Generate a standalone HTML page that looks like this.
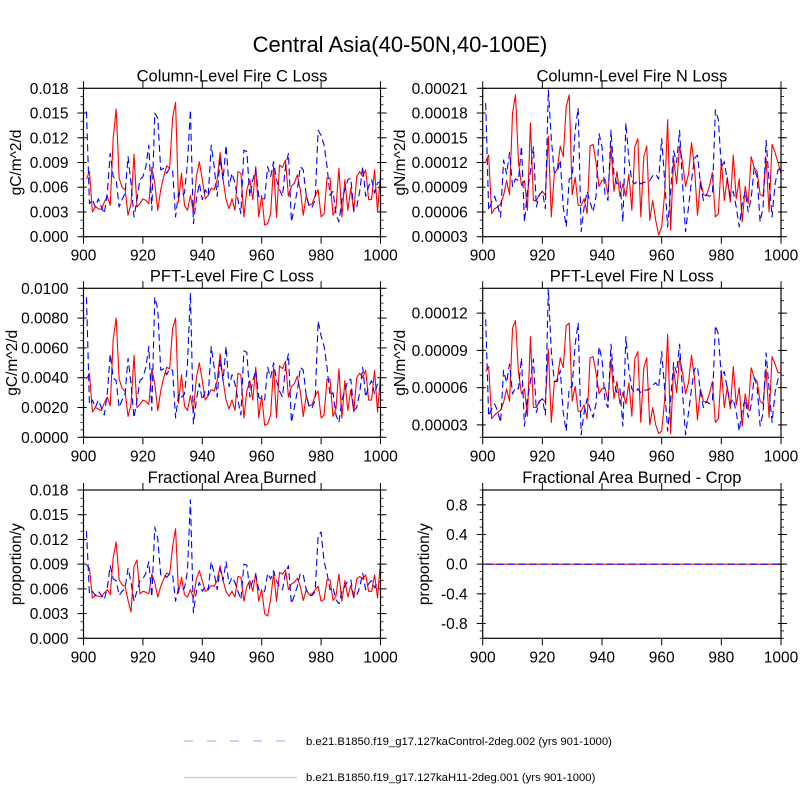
<!DOCTYPE html>
<html><head><meta charset="utf-8"><style>
html,body{margin:0;padding:0;background:#fff;}
svg{display:block;font-family:"Liberation Sans",Arial,sans-serif;}
</style></head><body>
<svg id="chart" width="800" height="800" viewBox="0 0 800 800" xmlns="http://www.w3.org/2000/svg">
<text x="400" y="52" font-size="22" text-anchor="middle">Central Asia(40-50N,40-100E)</text>
<g>
<line x1="184" y1="741" x2="291" y2="741" stroke="#b0b4ff" stroke-width="1.3" stroke-dasharray="9,14"/>
<text x="306" y="745" font-size="11.3">b.e21.B1850.f19_g17.127kaControl-2deg.002 (yrs 901-1000)</text>
<line x1="184" y1="777.5" x2="297" y2="777.5" stroke="#ffb4b4" stroke-width="1.3"/>
<text x="306" y="781" font-size="11.3">b.e21.B1850.f19_g17.127kaH11-2deg.001 (yrs 901-1000)</text>
</g>
</svg>
<script>
const years = [];
for (let y = 901; y <= 1000; y++) years.push(y);
const xTickLabels = [900, 920, 940, 960, 980, 1000];

const colCControl = [15.2,4.0,4.5,3.6,4.6,3.6,2.8,5.3,10.1,7.3, 6.9,3.6,4.5,5.3,9.7,6.5,2.4,4.5,6.9,7.3, 8.5,11.1,3.2,15.0,14.4,8.1,8.3,7.7,8.3,8.1, 2.4,5.3,4.9,5.3,8.9,15.4,1.6,4.5,6.5,4.5, 5.7,5.0,11.1,8.5,4.9,9.5,6.9,11.1,6.1,7.7, 6.5,4.5,2.8,10.5,10.3,4.9,6.9,8.1,4.9,4.6, 4.6,8.5,7.3,9.1,6.9,5.7,4.9,8.5,10.1,1.8, 3.6,5.7,8.5,8.1,5.0,3.6,3.6,4.5,12.9,12.3, 11.1,8.5,5.0,5.5,2.8,1.8,4.5,5.7,6.9,7.1, 3.2,3.6,5.5,8.5,4.9,6.1,6.9,5.3,6.5,6.7];
const colCH11 = [7.0,7.9,3.0,3.7,3.4,3.3,4.2,4.9,3.8,12.0, 15.5,7.1,6.0,5.7,2.6,4.0,10.0,3.6,4.0,4.6, 4.4,4.0,8.4,6.5,3.2,5.7,7.3,8.6,8.3,14.4, 16.3,4.2,7.7,3.8,3.2,5.0,3.0,7.3,9.1,6.9, 4.6,5.0,5.9,5.7,6.9,10.2,6.9,4.5,3.4,4.6, 3.2,7.9,7.7,2.4,5.7,6.9,4.5,8.5,2.4,5.0, 1.4,1.6,2.8,8.6,2.4,8.7,8.4,9.3,4.9,6.1, 6.5,7.5,5.7,2.6,5.0,3.8,4.0,5.0,5.7,2.4, 2.8,7.1,7.1,2.6,3.4,8.3,2.4,6.9,3.2,5.9, 3.0,7.3,7.9,7.3,8.1,4.5,4.5,8.1,3.0,7.5];
const colNControl = [19.2,6.2,7.2,7.9,6.8,5.4,12.3,10.6,13.2,9.1, 10.0,9.8,14.0,4.8,8.5,10.9,13.9,6.6,8.1,8.5, 6.4,20.8,14.9,10.8,10.9,12.3,6.6,4.2,10.0,10.2, 15.9,18.6,3.6,6.6,8.5,7.2,6.0,7.9,15.5,13.9, 8.1,7.4,15.9,10.6,9.4,9.8,4.8,16.8,12.3,9.8, 9.4,9.8,9.4,9.6,9.6,9.8,10.4,10.6,10.0,14.9, 9.8,4.2,8.5,13.4,12.0,15.9,9.4,3.6,6.6,9.8, 12.5,12.9,9.4,7.4,8.1,7.9,8.1,18.4,17.2,11.4, 12.1,9.8,7.9,8.5,6.6,4.2,7.0,8.5,6.0,7.6, 11.4,10.2,4.8,6.6,14.7,9.8,5.4,9.4,11.1,11.4];
const colNH11 = [12.1,12.9,5.8,6.4,6.6,7.0,8.0,9.8,8.1,18.0, 20.2,12.0,9.2,9.8,6.2,16.8,7.4,7.4,8.1,8.5, 8.0,15.2,5.4,10.6,11.2,14.0,12.7,18.8,20.2,8.1, 10.2,6.8,6.8,7.6,5.8,14.0,14.2,12.0,9.1,9.8, 10.0,8.1,13.9,8.5,10.9,7.9,9.4,7.9,10.6,6.2, 13.9,14.9,5.4,12.7,14.0,5.0,7.4,5.0,3.2,4.2, 8.3,17.2,3.8,12.5,9.4,14.0,12.0,9.1,10.6,14.4, 11.4,5.6,9.8,8.1,8.0,9.1,10.8,5.4,5.8,12.3, 7.4,10.2,7.2,12.9,7.6,10.0,4.8,9.1,7.0,12.7, 11.4,10.9,8.1,7.9,12.5,6.0,14.2,13.2,12.0,10.6];
const pftCControl = [9.4,2.2,2.5,2.0,2.5,2.0,1.5,2.9,5.6,4.0, 3.8,2.0,2.5,2.9,5.3,3.6,1.3,2.5,3.8,4.0, 4.7,6.1,1.8,9.4,8.6,4.5,4.6,4.2,4.6,4.5, 1.3,2.9,2.7,2.9,4.9,9.7,0.9,2.5,3.6,2.5, 3.1,2.8,6.1,4.7,2.7,5.2,3.8,6.1,3.4,4.2, 3.6,2.5,1.5,5.8,5.7,2.7,3.8,4.5,2.7,2.5, 2.5,4.7,4.0,5.0,3.8,3.1,2.7,4.7,5.6,1.0, 2.0,3.1,4.7,4.5,2.8,2.0,2.0,2.5,7.8,6.8, 6.1,4.7,2.8,3.0,1.5,1.0,2.5,3.1,3.8,3.9, 1.8,2.0,3.0,4.7,2.7,3.4,3.8,2.9,3.6,3.7];
const pftCH11 = [3.9,4.3,1.7,2.0,1.9,1.8,2.3,2.7,2.1,6.6, 8.0,3.9,3.3,3.1,1.4,2.2,5.5,2.0,2.2,2.5, 2.4,2.2,4.6,3.6,1.8,3.1,4.0,4.7,4.6,7.3, 8.0,2.3,4.2,2.1,1.8,2.8,1.7,4.0,5.0,3.8, 2.5,2.8,3.2,3.1,3.8,5.6,3.8,2.5,1.9,2.5, 1.8,4.3,4.2,1.3,3.1,3.8,2.5,4.7,1.3,2.8, 0.8,0.9,1.5,4.7,1.3,4.8,4.6,5.1,2.7,3.4, 3.6,4.1,3.1,1.4,2.8,2.1,2.2,2.8,3.1,1.3, 1.5,3.9,3.9,1.4,1.9,4.6,1.3,3.8,1.8,3.2, 1.7,4.0,4.3,4.0,4.5,2.5,2.5,4.5,1.7,4.1];
const pftNControl = [11.5,3.7,4.3,4.7,4.1,3.2,7.4,6.4,7.9,5.5, 6.0,5.9,8.4,2.9,5.1,6.5,8.3,4.0,4.9,5.1, 3.8,14.0,8.9,6.5,6.5,7.4,4.0,2.5,6.0,6.1, 9.5,11.2,2.2,4.0,5.1,4.3,3.6,4.7,9.3,8.3, 4.9,4.4,9.5,6.4,5.6,5.9,2.9,10.1,7.4,5.9, 5.6,5.9,5.6,5.8,5.8,5.9,6.2,6.4,6.0,8.9, 5.9,2.5,5.1,8.0,7.2,9.5,5.6,2.2,4.0,5.9, 7.5,7.7,5.6,4.4,4.9,4.7,4.9,11.0,10.3,6.8, 7.3,5.9,4.7,5.1,4.0,2.5,4.2,5.1,3.6,4.6, 6.8,6.1,2.9,4.0,8.8,5.9,3.2,5.6,6.7,6.8];
const pftNH11 = [7.3,7.7,3.5,3.8,4.0,4.2,4.8,5.9,4.9,10.8, 11.4,7.2,5.5,5.9,3.7,10.1,4.4,4.4,4.9,5.1, 4.8,9.1,3.2,6.4,6.7,8.4,7.6,11.0,11.2,4.9, 6.1,4.1,4.1,4.6,3.5,8.4,8.5,7.2,5.5,5.9, 6.0,4.9,8.3,5.1,6.5,4.7,5.6,4.7,6.4,3.7, 8.3,8.9,3.2,7.6,8.4,3.0,4.4,3.0,2.3,2.5, 5.0,10.3,2.3,7.5,5.6,8.4,7.2,5.5,6.4,8.6, 6.8,3.4,5.9,4.9,4.8,5.5,6.5,3.2,3.5,7.4, 4.4,6.1,4.3,7.7,4.6,6.0,2.9,5.5,4.2,7.6, 6.8,6.5,4.9,4.7,7.5,3.6,8.5,7.9,7.2,7.2];
const fabControl = [13.0,5.4,5.7,5.2,5.7,5.2,4.7,6.1,8.8,7.2, 7.0,5.2,5.7,6.1,8.5,6.8,4.5,5.7,7.0,7.2, 7.9,9.3,5.0,13.5,12.1,7.7,7.8,7.4,7.8,7.7, 4.5,6.1,5.9,6.1,8.1,16.8,3.1,5.7,6.8,5.7, 6.3,5.9,9.3,7.9,5.9,8.4,7.0,9.3,6.6,7.4, 6.8,5.7,4.7,9.0,8.9,5.9,7.0,7.7,5.9,5.7, 5.7,7.9,7.2,8.2,7.0,6.3,5.9,7.9,8.8,4.2, 5.2,6.3,7.9,7.7,5.9,5.2,5.2,5.7,12.5,12.9, 9.3,7.9,5.9,6.2,4.7,4.2,5.7,6.3,7.0,7.1, 5.0,5.2,6.2,7.9,5.9,6.6,7.0,6.1,6.8,6.9];
const fabH11 = [8.9,8.5,4.9,5.2,5.1,5.0,5.5,5.9,5.3,9.8, 11.7,7.1,6.5,6.3,4.6,3.2,8.7,9.5,5.4,5.7, 5.6,5.4,7.8,6.8,5.0,6.3,7.2,7.9,7.8,11.1, 13.3,5.5,7.4,5.3,5.0,5.9,4.9,7.2,8.2,7.0, 5.7,5.9,6.4,6.3,7.0,8.8,7.0,5.7,5.1,5.7, 5.0,7.5,7.4,4.5,6.3,7.0,5.7,7.9,4.5,5.9, 3.0,2.7,4.7,7.9,4.5,8.0,7.8,8.3,5.9,6.6, 6.8,7.3,6.3,4.6,5.9,5.3,5.4,5.9,6.3,4.5, 4.7,7.1,7.1,4.6,5.1,7.8,4.5,7.0,5.0,6.4, 4.9,7.2,7.5,7.2,7.7,5.7,5.7,7.7,4.9,9.3];
const cropControl = [0,0,0,0,0,0,0,0,0,0, 0,0,0,0,0,0,0,0,0,0, 0,0,0,0,0,0,0,0,0,0, 0,0,0,0,0,0,0,0,0,0, 0,0,0,0,0,0,0,0,0,0, 0,0,0,0,0,0,0,0,0,0, 0,0,0,0,0,0,0,0,0,0, 0,0,0,0,0,0,0,0,0,0, 0,0,0,0,0,0,0,0,0,0, 0,0,0,0,0,0,0,0,0,0];
const cropH11 = [0,0,0,0,0,0,0,0,0,0, 0,0,0,0,0,0,0,0,0,0, 0,0,0,0,0,0,0,0,0,0, 0,0,0,0,0,0,0,0,0,0, 0,0,0,0,0,0,0,0,0,0, 0,0,0,0,0,0,0,0,0,0, 0,0,0,0,0,0,0,0,0,0, 0,0,0,0,0,0,0,0,0,0, 0,0,0,0,0,0,0,0,0,0, 0,0,0,0,0,0,0,0,0,0];

const tickLabelsColC = ["0.000","0.003","0.006","0.009","0.012","0.015","0.018"];
const tickLabelsColN = ["0.00003","0.00006","0.00009","0.00012","0.00015","0.00018","0.00021"];
const tickLabelsPftC = ["0.0000","0.0020","0.0040","0.0060","0.0080","0.0100"];
const tickLabelsPftN = ["0.00003","0.00006","0.00009","0.00012"];
const tickLabelsCrop = ["-0.8","-0.4","0.0","0.4","0.8"];

const NS = "http://www.w3.org/2000/svg";
const svg = document.getElementById("chart");
function mk(tag, attrs, parent) {
  const e = document.createElementNS(NS, tag);
  for (const k in attrs) e.setAttribute(k, attrs[k]);
  (parent || svg).appendChild(e);
  return e;
}

const panels = [
  {id:"col-c", title:"Column-Level Fire C Loss", ytitle:"gC/m^2/d", x0:83.5, x1:380.5, y0:88.3, y1:236.7, ymin:0, ymax:18, unit:1, ctrl:colCControl, h11:colCH11, labels:tickLabelsColC, tstart:0, tstep:3, minor:1, ytx:16},
  {id:"col-n", title:"Column-Level Fire N Loss", ytitle:"gN/m^2/d", x0:482.7, x1:781, y0:88.3, y1:236.7, ymin:3, ymax:21, unit:1, ctrl:colNControl, h11:colNH11, labels:tickLabelsColN, tstart:3, tstep:3, minor:1, ytx:400},
  {id:"pft-c", title:"PFT-Level Fire C Loss", ytitle:"gC/m^2/d", x0:83.5, x1:380.5, y0:288.3, y1:437.3, ymin:0, ymax:10, unit:1, ctrl:pftCControl, h11:pftCH11, labels:tickLabelsPftC, tstart:0, tstep:2, minor:0.5, ytx:12},
  {id:"pft-n", title:"PFT-Level Fire N Loss", ytitle:"gN/m^2/d", x0:482.7, x1:781, y0:288.3, y1:437.3, ymin:2, ymax:14, unit:1, ctrl:pftNControl, h11:pftNH11, labels:tickLabelsPftN, tstart:3, tstep:3, minor:1, ytx:400},
  {id:"fab", title:"Fractional Area Burned", ytitle:"proportion/y", x0:83.5, x1:380.5, y0:490, y1:638.3, ymin:0, ymax:18, unit:1, ctrl:fabControl, h11:fabH11, labels:tickLabelsColC, tstart:0, tstep:3, minor:1, ytx:16},
  {id:"crop", title:"Fractional Area Burned - Crop", ytitle:"proportion/y", x0:482.7, x1:781, y0:490, y1:638.3, ymin:-1, ymax:1, unit:1, ctrl:cropControl, h11:cropH11, labels:tickLabelsCrop, tstart:-0.8, tstep:0.4, minor:0.1, ytx:424}
];

panels.forEach(p => {
  const g = mk("g", {});
  
  
  const xs = v => p.x0 + (v - 900) / 100 * (p.x1 - p.x0);
  const ys = v => p.y1 - (v - p.ymin) / (p.ymax - p.ymin) * (p.y1 - p.y0);
  const t = mk("text", {x:(p.x0+p.x1)/2, y:p.y0-7, "font-size":16.5, "text-anchor":"middle"}, g);
  t.textContent = p.title;
  
  
  const cy = (p.y0+p.y1)/2;
  const yt = mk("text", {x:p.ytx, y:cy, "font-size":15.5, "text-anchor":"middle", transform:"rotate(-90 "+p.ytx+" "+cy+")", dy:"5"}, g);
  yt.textContent = p.ytitle;
  
  
  const mkLine = (arr, color, dash, name) => {
    const d = arr.map((v,i) => (i?"L":"M") + xs(years[i]).toFixed(2) + "," + ys(v*p.unit).toFixed(2)).join("");
    const a = {d:d, fill:"none", stroke:color, "stroke-width":1.1, "stroke-linejoin":"round"};
    if (dash) a["stroke-dasharray"] = dash;
    const pth = mk("path", a, g);
    
    
  };
  mkLine(p.h11, "#ff0000", null, p.id + "-h11-line");
  mkLine(p.ctrl, "#0000ff", "7,4", p.id + "-control-line");
  const fr = mk("rect", {x:p.x0, y:p.y0, width:p.x1-p.x0, height:p.y1-p.y0, fill:"none", stroke:"#000", "stroke-width":1.2}, g);
  
  
  xTickLabels.forEach(v => {
    const x = xs(v);
    mk("line", {x1:x, x2:x, y1:p.y1, y2:p.y1+7, stroke:"#000", "stroke-width":1}, g);
    mk("line", {x1:x, x2:x, y1:p.y0, y2:p.y0-7, stroke:"#000", "stroke-width":1}, g);
    const lb = mk("text", {x:x, y:p.y1+24, "font-size":15.5, "text-anchor":"middle"}, g);
    lb.textContent = v;
    
    
  });
  const nMin = Math.round((p.ymax - p.ymin) / p.minor);
  for (let i = 0; i <= nMin; i++) {
    const y = ys(p.ymin + i * p.minor);
    mk("line", {x1:p.x0-3, x2:p.x0, y1:y, y2:y, stroke:"#000", "stroke-width":0.8}, g);
    mk("line", {x1:p.x1, x2:p.x1+3, y1:y, y2:y, stroke:"#000", "stroke-width":0.8}, g);
  }
  p.labels.forEach((lab, i) => {
    const y = ys(p.tstart + i * p.tstep);
    mk("line", {x1:p.x0-6, x2:p.x0+3, y1:y, y2:y, stroke:"#000", "stroke-width":1}, g);
    mk("line", {x1:p.x1-3, x2:p.x1+6, y1:y, y2:y, stroke:"#000", "stroke-width":1}, g);
    const lb = mk("text", {x:p.x0-15, y:y+5.5, "font-size":15.5, "text-anchor":"end"}, g);
    lb.textContent = lab;
    
    
  });
});
</script>
</body></html>
